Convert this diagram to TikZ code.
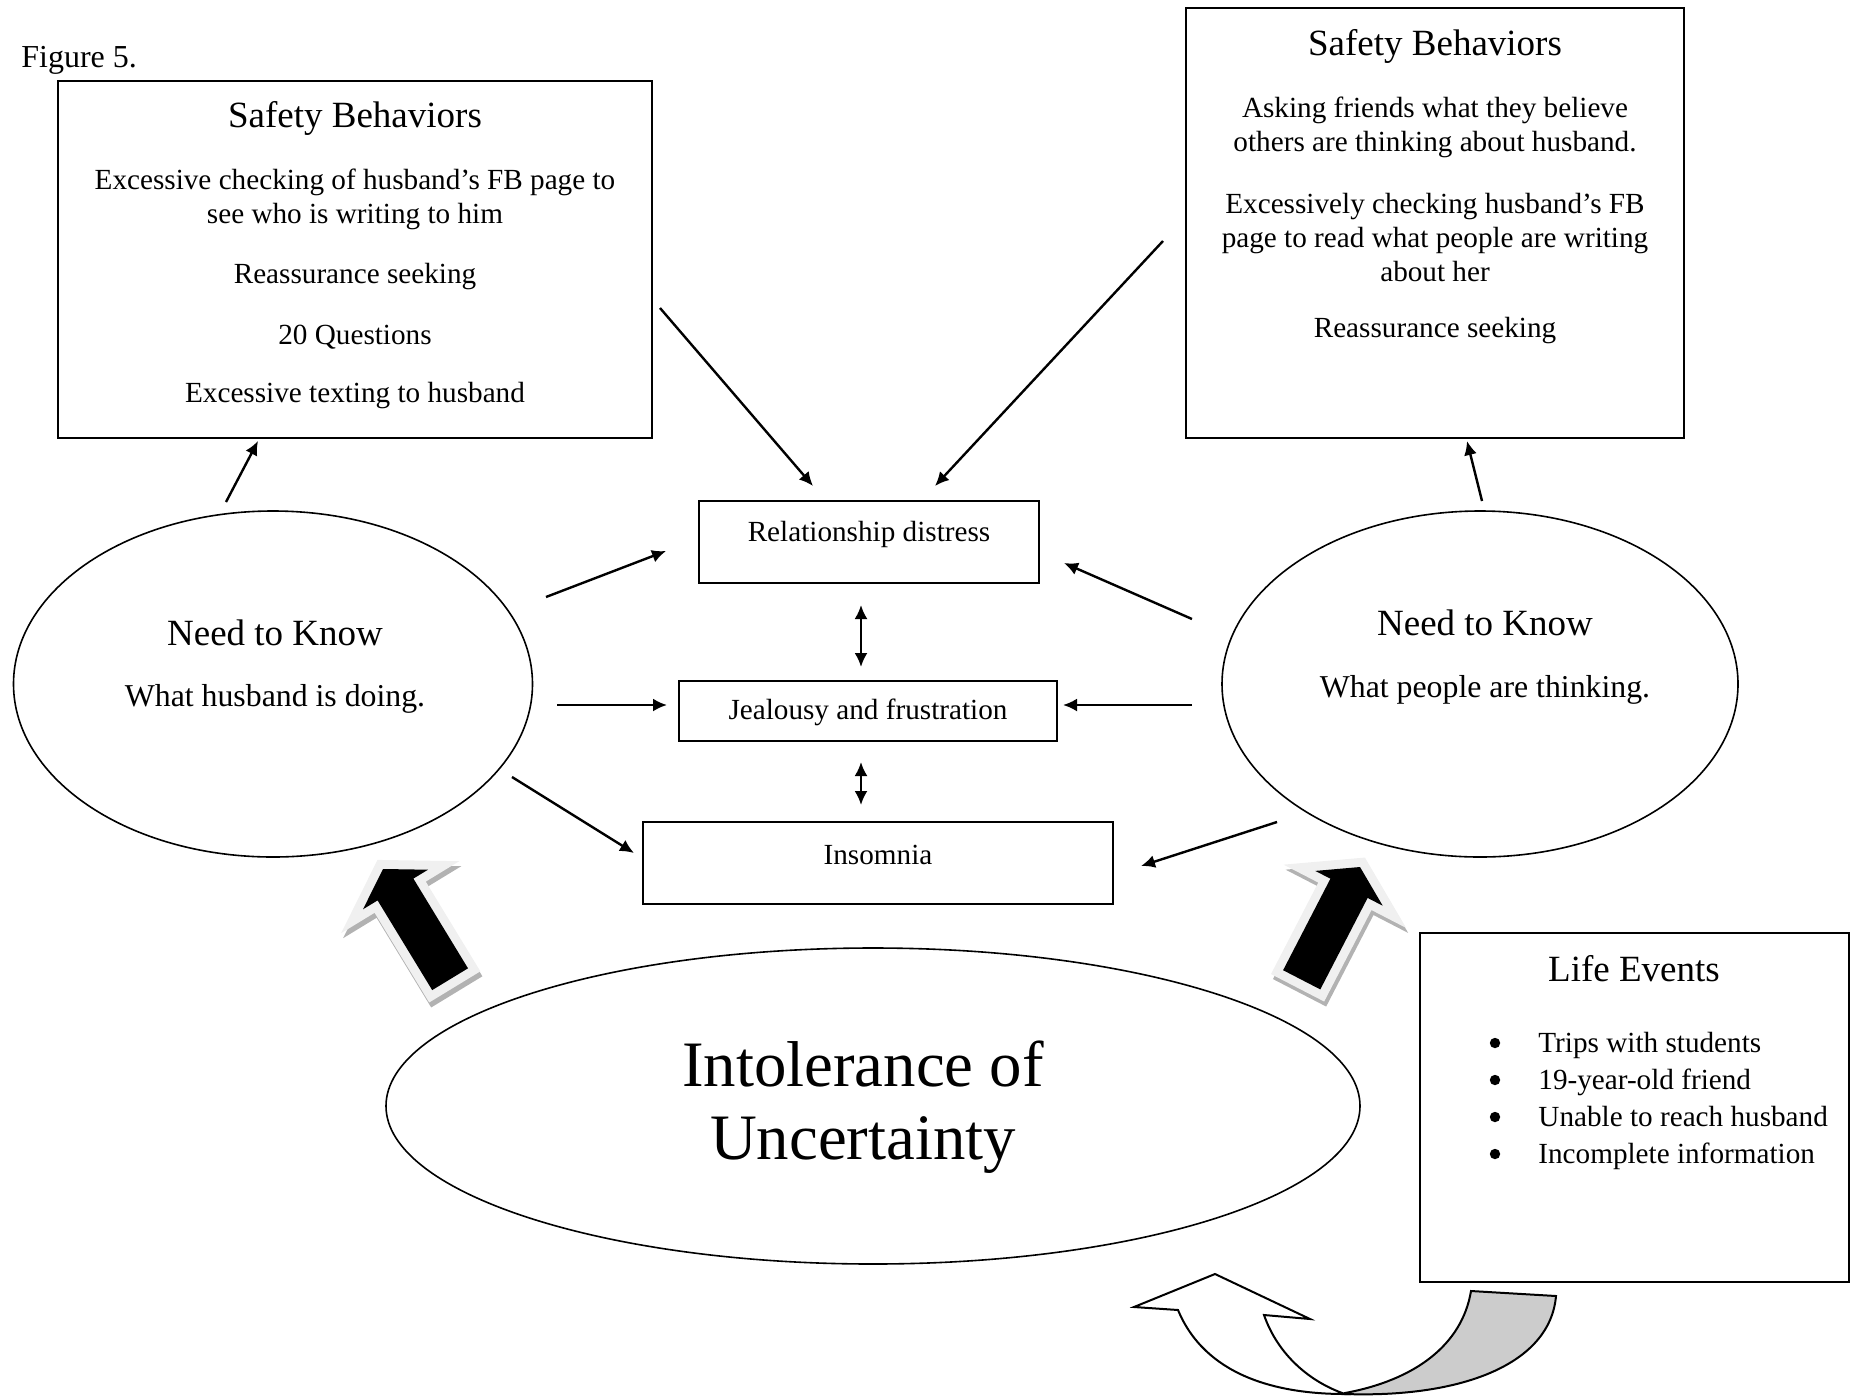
\documentclass[tikz,border=0pt]{standalone}
\usepackage{fontspec}
\setmainfont{Liberation Serif}
\usetikzlibrary{arrows.meta,shapes.geometric}
\begin{document}
\begin{tikzpicture}[x=0.5pt,y=-0.5pt,
  boxnode/.style={draw, line width=1pt, inner sep=0pt},
  ellnode/.style={draw, ellipse, line width=0.8pt, inner sep=0pt},
  headtxt/.style={font=\fontsize{18.5}{22}\selectfont, inner sep=0pt},
  bodytxt/.style={font=\fontsize{14.6}{17}\selectfont, align=center, inner sep=0pt},
  subtxt/.style={font=\fontsize{15.9}{19}\selectfont, inner sep=0pt},
  arr/.style={line width=1.2pt, -{Latex[length=7pt,width=6.5pt]}},
  darr/.style={line width=1.2pt, {Latex[length=7pt,width=6.5pt]}-{Latex[length=7pt,width=6.5pt]}},
  blockshadow/.style={fill=black!30, draw=black!30, line width=9pt, line join=miter, miter limit=4},
  blockrim/.style={fill=black!6, draw=black!6, line width=9pt, line join=miter, miter limit=4},
  blockcore/.style={fill=black, draw=none},
  bulletdot/.style={fill=black},
  uturn/.style={draw=black, line width=1pt, line join=miter, fill=white},
  uturnback/.style={draw=black, line width=1pt, fill=black!20}
]
\useasboundingbox (0,0) rectangle (1858,1398);

% caption
\node[font=\fontsize{16}{18}\selectfont, anchor=west, inner sep=0pt] (fig) at (21,60.5) {Figure 5.};

% boxes
\node[boxnode, minimum width=297pt, minimum height=178.5pt] (sbl) at (355,259.5) {};
\node[boxnode, minimum width=249pt, minimum height=215pt] (sbr) at (1435,223) {};
\node[boxnode, minimum width=170pt, minimum height=41pt] (rel) at (869,542) {};
\node[boxnode, minimum width=189pt, minimum height=30pt] (jeal) at (868,711) {};
\node[boxnode, minimum width=235pt, minimum height=41pt] (ins) at (878,863) {};
\node[boxnode, minimum width=214.5pt, minimum height=174.5pt] (life) at (1634.5,1107.5) {};

% ellipses
\node[ellnode, minimum width=259.5pt, minimum height=173pt] (nkl) at (273,684) {};
\node[ellnode, minimum width=258pt, minimum height=173pt] (nkr) at (1480,684) {};
\node[ellnode, minimum width=487pt, minimum height=158pt] (iu) at (873,1106) {};

% left safety behaviors text
\node[headtxt] (sblh) at (355,118.5) {Safety Behaviors};
\node[bodytxt] (sbl1) at (355,199) {Excessive checking of husband’s FB page to\\see who is writing to him};
\node[bodytxt] (sbl2) at (355,277) {Reassurance seeking};
\node[bodytxt] (sbl3) at (355,337) {20 Questions};
\node[bodytxt] (sbl4) at (355,396) {Excessive texting to husband};

% right safety behaviors text
\node[headtxt] (sbrh) at (1435,46) {Safety Behaviors};
\node[bodytxt] (sbr1) at (1435,127) {Asking friends what they believe\\others are thinking about husband.};
\node[bodytxt] (sbr2) at (1435,238) {Excessively checking husband’s FB\\page to read what people are writing\\about her};
\node[bodytxt] (sbr3) at (1435,331) {Reassurance seeking};

% ellipse texts
\node[headtxt] (nklh) at (275,633) {Need to Know};
\node[subtxt] (nklt) at (275,699) {What husband is doing.};
\node[headtxt] (nkrh) at (1485,623) {Need to Know};
\node[subtxt] (nkrt) at (1485,689.5) {What people are thinking.};

% centre boxes text
\node[bodytxt] (relt) at (869,534) {Relationship distress};
\node[bodytxt] (jealt) at (868,712.5) {Jealousy and frustration};
\node[bodytxt] (inst) at (878,855) {Insomnia};

% intolerance
\node[font=\fontsize{32.4}{36.75}\selectfont, align=center, inner sep=0pt] (iut) at (863,1107) {Intolerance of\\Uncertainty};

% life events
\node[headtxt] (lifeh) at (1634,969) {Life Events};
\node[font=\fontsize{14.6}{18.5}\selectfont, align=left, anchor=west, inner sep=0pt] (lifel) at (1538,1100.5)
  {Trips with students\\19-year-old friend\\Unable to reach husband\\Incomplete information};
\fill[bulletdot] (1495,1043) circle (2.6pt);
\fill[bulletdot] (1495,1080) circle (2.6pt);
\fill[bulletdot] (1495,1117) circle (2.6pt);
\fill[bulletdot] (1495,1154) circle (2.6pt);

% connector end points
\coordinate (a1s) at (226,502); \coordinate (a1e) at (258,441);
\coordinate (a2s) at (1482,501); \coordinate (a2e) at (1467,441);
\coordinate (a3s) at (660,308); \coordinate (a3e) at (813,486);
\coordinate (a4s) at (1163,241); \coordinate (a4e) at (935,486);
\coordinate (a5s) at (546,597); \coordinate (a5e) at (666,551);
\coordinate (a6s) at (557,705); \coordinate (a6e) at (667,705);
\coordinate (a7s) at (512,777); \coordinate (a7e) at (634,853);
\coordinate (a8s) at (1192,619); \coordinate (a8e) at (1064,563);
\coordinate (a9s) at (1192,705); \coordinate (a9e) at (1063,705);
\coordinate (a10s) at (1277,822); \coordinate (a10e) at (1141,866);
\coordinate (d1s) at (861,605); \coordinate (d1e) at (861,667);
\coordinate (d2s) at (861,762); \coordinate (d2e) at (861,805);

\draw[arr] (a1s) -- (a1e);
\draw[arr] (a2s) -- (a2e);
\draw[arr] (a3s) -- (a3e);
\draw[arr] (a4s) -- (a4e);
\draw[arr] (a5s) -- (a5e);
\draw[arr] (a6s) -- (a6e);
\draw[arr] (a7s) -- (a7e);
\draw[arr] (a8s) -- (a8e);
\draw[arr] (a9s) -- (a9e);
\draw[arr] (a10s) -- (a10e);
\draw[darr] (d1s) -- (d1e);
\draw[darr] (d2s) -- (d2e);

% left block arrow
\def\leftblock{(383,869) -- (428,869.7) -- (413.4,878.6) -- (468,968.3) -- (432.2,990.1) -- (377.6,900.4) -- (363,909.3) -- cycle}
\begin{scope}[shift={(2,5)}]
  \path[blockshadow] \leftblock;
\end{scope}
\path[blockrim] \leftblock;
\path[blockcore] \leftblock;

% right block arrow
\def\rightblock{(1360,867) -- (1382.7,905.7) -- (1367.6,897.9) -- (1320.3,989.4) -- (1283.1,970.2) -- (1330.4,878.7) -- (1315.3,870.9) -- cycle}
\begin{scope}[shift={(2,5)}]
  \path[blockshadow] \rightblock;
\end{scope}
\path[blockrim] \rightblock;
\path[blockcore] \rightblock;

% U-turn arrow
\draw[uturnback] (1345,1393) .. controls (1415,1380) and (1462,1345) .. (1471,1291)
  -- (1556,1296) .. controls (1550,1365) and (1460,1398) .. (1345,1394) -- cycle;
\draw[uturn] (1178,1310) .. controls (1205,1375) and (1275,1394) .. (1345,1394)
  .. controls (1310,1382) and (1278,1355) .. (1264,1315)
  -- (1310,1319) -- (1215,1274) -- (1134,1307) -- cycle;
\end{tikzpicture}
\end{document}
